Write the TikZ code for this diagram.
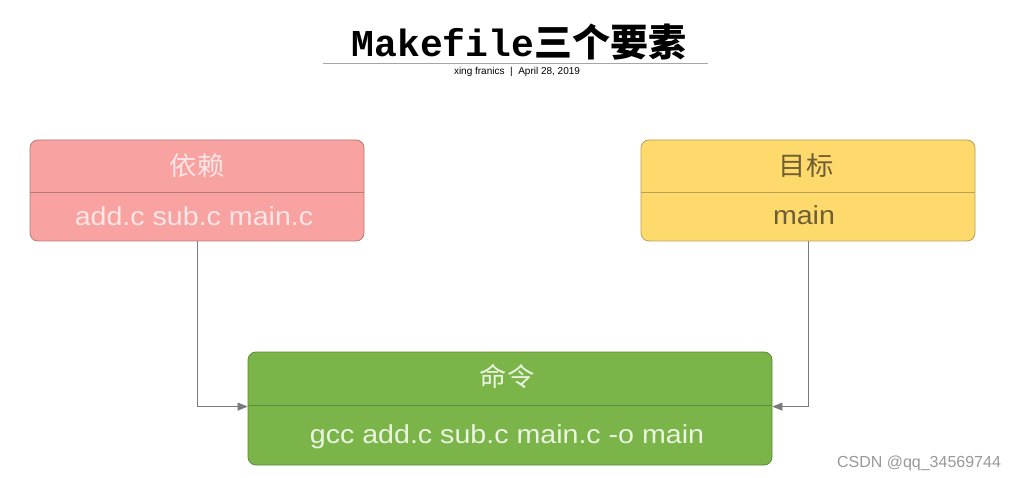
\documentclass[tikz,border=0pt]{standalone}
\usepackage{fontspec}
\setmainfont{Liberation Sans}
\setmonofont{Liberation Mono}
\newfontfamily\cjk{Noto Sans CJK SC}
\usepackage{tikz}
\usetikzlibrary{arrows.meta,positioning}

\definecolor{depfill}{HTML}{F8A2A2}
\definecolor{depdraw}{HTML}{B87878}
\definecolor{deptext}{HTML}{FCE6E6}
\definecolor{tgtfill}{HTML}{FED96C}
\definecolor{tgtdraw}{HTML}{B9A05A}
\definecolor{tgttext}{HTML}{6E5E33}
\definecolor{cmdfill}{HTML}{7BB449}
\definecolor{cmddraw}{HTML}{5E8A3C}
\definecolor{cmdtext}{HTML}{EAF4E0}
\definecolor{linegray}{HTML}{7A7A7A}

\begin{document}
\begin{tikzpicture}[x=1pt,y=-1pt,
  box/.style={rounded corners=8pt, line width=0.8pt, minimum width=334pt, minimum height=101pt, inner sep=0pt},
  divider/.style={line width=0.8pt},
  head/.style={font=\fontsize{26}{30}\selectfont\cjk, xscale=1.05},
  body/.style={font=\fontsize{26}{30}\selectfont, xscale=1.1, anchor=base},
  conn/.style={draw=linegray, line width=0.7pt, -{Triangle[length=10pt,width=8pt]}}]

\useasboundingbox[fill=white] (0,0) rectangle (1020,478);

%title
\node[anchor=base] (title) at (519,57) {\fontsize{38}{40}\selectfont\ttfamily\bfseries Makefile{\cjk\bfseries 三个要素}};
\draw[draw=gray!70, line width=0.8pt] (323,63) coordinate (rulel) -- (708,63) coordinate (ruler);
\node[anchor=base, font=\fontsize{10}{12}\selectfont] (byline) at (517,75) {xing franics \ | \ April 28, 2019};

%boxes
\node[box, draw=depdraw, fill=depfill] (dep) at (197,190.5) {};
\node[box, draw=tgtdraw, fill=tgtfill] (tgt) at (808,190.5) {};
\node[box, draw=cmddraw, fill=cmdfill, minimum width=524pt, minimum height=113pt] (cmd) at (510,408.5) {};

\draw[divider, draw=depdraw] ([yshift=-53pt]dep.north west) -- ([yshift=-53pt]dep.north east);
\draw[divider, draw=tgtdraw] ([yshift=-53pt]tgt.north west) -- ([yshift=-53pt]tgt.north east);
\draw[divider, draw=cmddraw] ([yshift=-54pt]cmd.north west) -- ([yshift=-54pt]cmd.north east);

%labels
\node[head, text=deptext] (dephead) at (197,166) {依赖};
\node[body, text=deptext] (depbody) at (194,226) {add.c sub.c main.c};
\node[head, text=tgttext] (tgthead) at (806,166) {目标};
\node[body, text=tgttext] (tgtbody) at (804,225) {main};
\node[head, text=cmdtext] (cmdhead) at (507,377) {命令};
\node[body, text=cmdtext] (cmdbody) at (507,443) {gcc add.c sub.c main.c -o main};

%connectors
\draw[conn] (dep.south) |- ([yshift=-55pt]cmd.north west);
\draw[conn] (tgt.south) |- ([yshift=-55pt]cmd.north east);

\node[anchor=base, text=gray!80, font=\fontsize{16}{18}\selectfont] (mark) at (919,467) {CSDN @qq\_34569744};

\end{tikzpicture}
\end{document}
